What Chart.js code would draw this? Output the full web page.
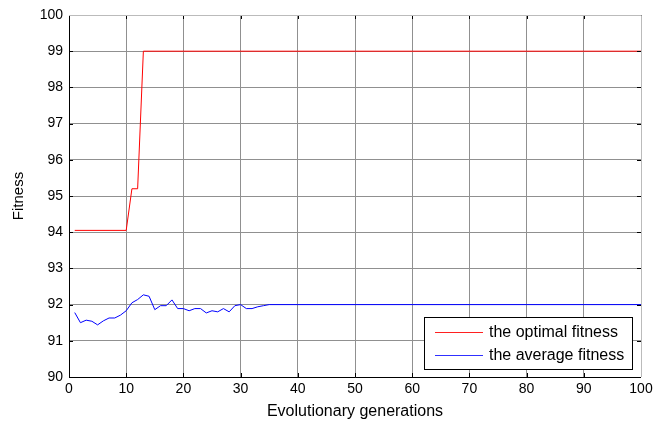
<!DOCTYPE html>
<html>
<head>
<meta charset="utf-8">
<script src="https://cdn.jsdelivr.net/npm/chart.js@4"></script>
<style>
  html, body { margin: 0; padding: 0; background: #fff; }
  #wrap { width: 654px; height: 421px; }
</style>
</head>
<body>
<div id="wrap"><canvas id="chart" width="654" height="421"></canvas></div>
<script>
// generations where the curves change
const optimalGen = [1, 10, 11, 12, 13, 100];
const optimalFit = [94.05, 94.05, 95.2, 95.2, 99, 99];

const averageGen = [1, 2, 3, 4, 5, 6, 7, 8, 9, 10, 11, 12, 13, 14, 15, 16, 17, 18, 19, 20,
  21, 22, 23, 24, 25, 26, 27, 28, 29, 30, 31, 32, 33, 34, 35, 100];
const averageFit = [91.78, 91.5, 91.57, 91.54, 91.44, 91.55, 91.63, 91.63, 91.71, 91.83,
  92.05, 92.14, 92.27, 92.23, 91.86, 91.97, 91.97, 92.13, 91.89, 91.89,
  91.83, 91.89, 91.89, 91.77, 91.83, 91.8, 91.89, 91.8, 91.97, 92.0,
  91.89, 91.89, 91.94, 91.97, 92.0, 92.0];

const seriesNames = ['the optimal fitness', 'the average fitness'];
const seriesColors = ['#ff0000', '#0000ff'];
const xTicks = [0, 10, 20, 30, 40, 50, 60, 70, 80, 90, 100];
const yTicks = [90, 91, 92, 93, 94, 95, 96, 97, 98, 99, 100];

const FONT = 'Liberation Sans, Arial, sans-serif';

function toPoints(xs, ys) {
  return xs.map((x, i) => ({ x: x, y: ys[i] }));
}

// box legend in the lower right, like the matlab one
const boxLegend = {
  id: 'boxLegend',
  afterDatasetsDraw(chart) {
    const ctx = chart.ctx;
    const left = 424, top = 317, w = 208, h = 52;
    ctx.save();
    ctx.fillStyle = '#fff';
    ctx.fillRect(left, top, w, h);
    ctx.strokeStyle = '#000';
    ctx.lineWidth = 1;
    ctx.strokeRect(left + 0.5, top + 0.5, w, h);
    ctx.font = '16px ' + FONT;
    ctx.textBaseline = 'middle';
    chart.data.datasets.forEach((ds, i) => {
      const y = top + 15 + i * 23;
      ctx.strokeStyle = i ? '#3030ff' : '#ff2020';
      ctx.beginPath();
      ctx.moveTo(435, y + 0.5);
      ctx.lineTo(483, y + 0.5);
      ctx.stroke();
      ctx.fillStyle = '#000';
      ctx.fillText(ds.label, 489, y + 1);
    });
    ctx.restore();
  }
};

// black frame + inward ticks
const frame = {
  id: 'frame',
  afterDraw(chart) {
    const { left, right, top, bottom } = chart.chartArea;
    const ctx = chart.ctx;
    const xs = chart.scales.x, ys = chart.scales.y;
    ctx.save();
    ctx.strokeStyle = '#000';
    ctx.lineWidth = 1;
    ctx.beginPath();
    xTicks.forEach(v => {
      const px = Math.round(xs.getPixelForValue(v)) + 0.5;
      ctx.moveTo(px, bottom); ctx.lineTo(px, bottom - 4);
      ctx.moveTo(px, top); ctx.lineTo(px, top + 4);
    });
    yTicks.forEach(v => {
      const py = Math.round(ys.getPixelForValue(v)) + 0.5;
      ctx.moveTo(left, py); ctx.lineTo(left + 4, py);
      ctx.moveTo(right, py); ctx.lineTo(right - 4, py);
    });
    ctx.stroke();
    ctx.beginPath();
    ctx.moveTo(left + 0.5, top);
    ctx.lineTo(left + 0.5, bottom + 0.5);
    ctx.lineTo(right, bottom + 0.5);
    ctx.stroke();
    ctx.strokeStyle = '#bbb';
    ctx.beginPath();
    ctx.moveTo(left, top + 0.5);
    ctx.lineTo(right + 0.5, top + 0.5);
    ctx.lineTo(right + 0.5, bottom);
    ctx.stroke();
    ctx.restore();
  }
};

new Chart(document.getElementById('chart'), {
  type: 'line',
  data: {
    datasets: [{
      label: seriesNames[0],
      data: toPoints(optimalGen, optimalFit),
      borderColor: seriesColors[0],
      borderWidth: 1,
      pointRadius: 0,
      tension: 0
    }, {
      label: seriesNames[1],
      data: toPoints(averageGen, averageFit),
      borderColor: seriesColors[1],
      borderWidth: 1,
      pointRadius: 0,
      tension: 0
    }]
  },
  options: {
    responsive: false,
    animation: false,
    layout: { padding: { top: 15, right: 13, left: 0, bottom: 0 } },
    plugins: {
      legend: { display: false },
      tooltip: { enabled: false }
    },
    scales: {
      x: {
        type: 'linear',
        min: 0,
        max: 100,
        afterBuildTicks: s => { s.ticks = xTicks.map(v => ({ value: v })); },
        afterFit: s => { s.height = 44; s.paddingRight = 0; },
        grid: { color: '#909090', tickLength: 0, drawTicks: false },
        border: { display: false },
        ticks: { color: '#000', font: { family: FONT, size: 14 }, padding: 4, maxRotation: 0 },
        title: { display: true, text: 'Evolutionary generations', color: '#000',
                 font: { family: FONT, size: 16 }, padding: { top: 0, bottom: 0 } }
      },
      y: {
        min: 90,
        max: 100,
        afterBuildTicks: s => { s.ticks = yTicks.map(v => ({ value: v })); },
        afterFit: s => { s.width = 69; },
        grid: { color: '#909090', tickLength: 0, drawTicks: false },
        border: { display: false },
        ticks: { color: '#000', font: { family: FONT, size: 14 }, padding: 6 },
        title: { display: true, text: 'Fitness', color: '#000',
                 font: { family: FONT, size: 15 }, padding: { top: 10, bottom: 0 } }
      }
    }
  },
  plugins: [boxLegend, frame]
});
</script>
</body>
</html>
